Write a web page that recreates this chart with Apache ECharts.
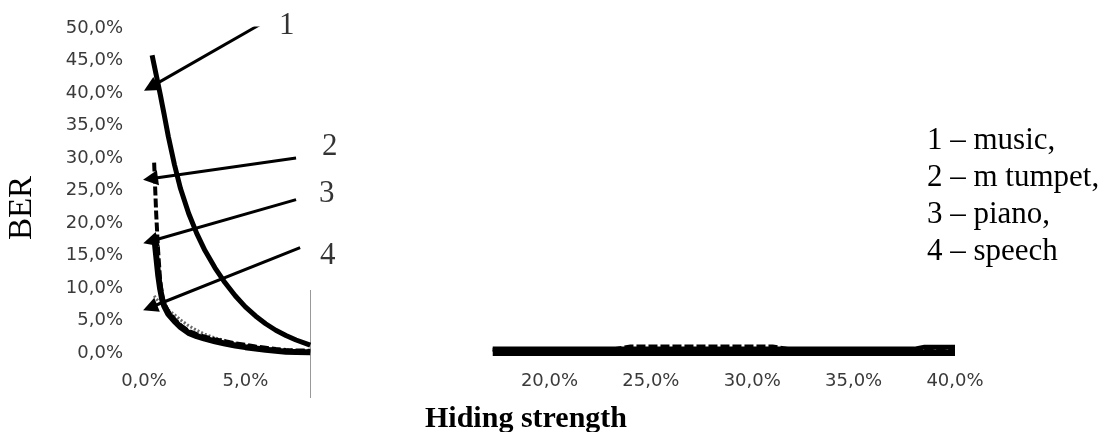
<!DOCTYPE html>
<html>
<head>
<meta charset="utf-8">
<script src="https://cdn.jsdelivr.net/npm/echarts@6/dist/echarts.min.js"></script>
<style>
  html, body { margin: 0; padding: 0; background: #fff; }
  #chart { width: 1106px; height: 432px; }
</style>
</head>
<body>
<div id="chart"></div>
<script>
// Hiding strength (%) sampled on the low-strength part of the sweep
const xLeft = [0.4, 0.5, 0.6, 0.7, 0.8, 0.9, 1.0, 1.2, 1.5, 1.8, 2.2, 2.6, 3.0, 3.5, 4.0, 4.5, 5.0, 5.5, 6.0, 6.5, 7.0, 7.5, 8.2];
// BER (%) per signal type on the low-strength part
const musicLeft   = [45.8, 44.3, 42.8, 41.3, 39.8, 38.2, 36.6, 33.3, 29.0, 25.3, 21.5, 18.4, 15.8, 13.1, 10.8, 8.8, 7.1, 5.7, 4.5, 3.5, 2.7, 2.0, 1.2];
const trumpetLeft = ['-', 29.3, 21.5, 15.5, 11.0, 8.8, 7.6, 6.4, 5.2, 4.3, 3.4, 2.9, 2.5, 2.1, 1.8, 1.5, 1.25, 1.0, 0.8, 0.6, 0.45, 0.4, 0.35];
const pianoLeft   = ['-', 18.0, 15.0, 12.0, 9.8, 8.2, 7.2, 6.0, 4.9, 4.0, 3.1, 2.6, 2.2, 1.8, 1.45, 1.15, 0.9, 0.7, 0.5, 0.35, 0.2, 0.15, 0.1];
const speechLeft  = ['-', 8.8, 8.4, 8.0, 7.7, 7.4, 7.1, 6.6, 5.9, 5.1, 4.2, 3.5, 2.9, 2.3, 1.9, 1.5, 1.2, 0.95, 0.75, 0.6, 0.5, 0.4, 0.35];

// Hiding strength (%) on the high-strength part of the sweep
const xRight = [17.2, 18, 19, 20, 21, 22, 23, 24, 25, 26, 27, 28, 29, 30, 31, 32, 33, 34, 35, 36, 37, 38, 38.5, 39, 40];
const musicRight   = [0.6, 0.6, 0.6, 0.6, 0.6, 0.6, 0.6, 0.6, 0.6, 0.6, 0.6, 0.6, 0.6, 0.6, 0.6, 0.6, 0.6, 0.6, 0.6, 0.6, 0.6, 0.6, 0.9, 0.9, 0.9];
const trumpetRight = [0.5, 0.5, 0.5, 0.5, 0.5, 0.5, 0.5, 1.0, 1.0, 1.0, 1.0, 1.0, 1.0, 1.0, 1.0, 0.5, 0.5, 0.5, 0.5, 0.5, 0.5, 0.5, 0.5, 0.5, 0.5];
const pianoRight   = [0.0, 0.0, 0.0, 0.0, 0.0, 0.0, 0.0, 0.0, 0.0, 0.0, 0.0, 0.0, 0.0, 0.0, 0.0, 0.0, 0.0, 0.0, 0.0, 0.0, 0.0, 0.0, 0.0, 0.0, 0.0];
const speechRight  = [0.5, 0.5, 0.5, 0.5, 0.5, 0.5, 0.5, 0.5, 0.5, 0.5, 0.5, 0.5, 0.5, 0.5, 0.5, 0.5, 0.5, 0.5, 0.5, 0.5, 0.5, 0.5, 0.5, 0.5, 0.5];

// Tick values whose labels are left out on the x axis
const hiddenXTicks = [10, 15];

// Callout numbers: label position, arrow tail and arrow head (x %, BER %)
const calloutNames = ['1', '2', '3', '4'];
const calloutLabelPos = [[7.04, 50.4], [9.16, 31.7], [9.01, 24.5], [9.06, 14.9]];
const calloutTails = [[5.7, 50.5], [7.5, 30.0], [7.5, 23.6], [7.7, 16.2]];
const calloutHeads = [[0.32, 40.9], [0.32, 26.8], [0.32, 17.2], [0.30, 7.0]];

const legendLines = ['1 \u2013 music,', '2 \u2013 m tumpet,', '3 \u2013 piano,', '4 \u2013 speech'];

function pairs(xs, ys) { return xs.map((x, i) => [x, ys[i]]); }
function curve(left, right) {
  return pairs(xLeft, left).concat([[12, '-']], pairs(xRight, right));
}
function pct(v) { return v.toFixed(1).replace('.', ',') + '%'; }

const chart = echarts.init(document.getElementById('chart'), null, { renderer: 'canvas' });

const tickFont = { fontFamily: 'DejaVu Sans', fontSize: 18, color: '#3a3a3a' };

const option = {
  animation: false,
  backgroundColor: '#fff',
  grid: { left: 144, top: 28, width: 811, height: 325, containLabel: false },
  xAxis: {
    type: 'value', min: 0, max: 40, interval: 5,
    axisLine: { show: false }, axisTick: { show: false }, splitLine: { show: false },
    axisLabel: Object.assign({ margin: 19, formatter: v => hiddenXTicks.includes(v) ? '' : pct(v) }, tickFont)
  },
  yAxis: {
    type: 'value', min: 0, max: 50, interval: 5,
    axisLine: { show: false }, axisTick: { show: false }, splitLine: { show: false },
    axisLabel: Object.assign({ margin: 21, formatter: v => pct(v) }, tickFont)
  },
  series: [
    {
      name: 'speech', type: 'line', data: curve(speechLeft, speechRight),
      showSymbol: false, connectNulls: false, clip: false, z: 2,
      lineStyle: { color: '#6a6a6a', width: 3, type: [2, 2], cap: 'butt' }
    },
    {
      name: 'piano', type: 'line', data: curve(pianoLeft, pianoRight),
      showSymbol: false, connectNulls: false, clip: false, z: 3,
      lineStyle: { color: '#000', width: 6, cap: 'butt' }
    },
    {
      name: 'music', type: 'line', data: curve(musicLeft, musicRight),
      showSymbol: false, connectNulls: false, clip: false, z: 3,
      lineStyle: { color: '#000', width: 5, cap: 'butt' }
    },
    {
      name: 'm tumpet', type: 'line', data: curve(trumpetLeft, trumpetRight),
      showSymbol: false, connectNulls: false, clip: false, z: 4,
      lineStyle: { color: '#000', width: 4, type: [9, 3], cap: 'butt' }
    },
    {
      name: 'callouts', type: 'lines', coordinateSystem: 'cartesian2d', z: 6,
      symbol: ['none', 'triangle'], symbolSize: [12, 15],
      lineStyle: { color: '#000', width: 3, opacity: 1, curveness: 0 },
      itemStyle: { color: '#000' },
      data: calloutTails.map((t, i) => ({ coords: [t, calloutHeads[i]] }))
    },
    {
      name: 'callout numbers', type: 'scatter', clip: false, z: 6, symbolSize: 0,
      data: calloutLabelPos.map((p, i) => ({ name: calloutNames[i], value: p })),
      label: {
        show: true, position: 'inside', formatter: '{b}',
        fontFamily: 'Liberation Serif', fontSize: 31, color: '#000'
      }
    }
  ],
  graphic: [
    {
      type: 'text', x: 22, y: 208, rotation: Math.PI / 2,
      style: { text: 'BER', font: '33px "Liberation Serif"', fill: '#000', textAlign: 'center', textVerticalAlign: 'middle' }
    },
    {
      type: 'text', x: 526, y: 419,
      style: { text: 'Hiding strength', font: 'bold 30px "Liberation Serif"', fill: '#000', textAlign: 'center', textVerticalAlign: 'middle' }
    },
    {
      type: 'line', shape: { x1: 310.5, y1: 290, x2: 310.5, y2: 398 },
      style: { stroke: '#999', lineWidth: 1 }
    }
  ].concat(legendLines.map((t, i) => ({
    type: 'text', x: 927, y: 140.5 + i * 37,
    style: { text: t, font: '31px "Liberation Serif"', fill: '#000', textAlign: 'left', textVerticalAlign: 'middle' }
  })))
};

chart.setOption(option);
</script>
</body>
</html>
